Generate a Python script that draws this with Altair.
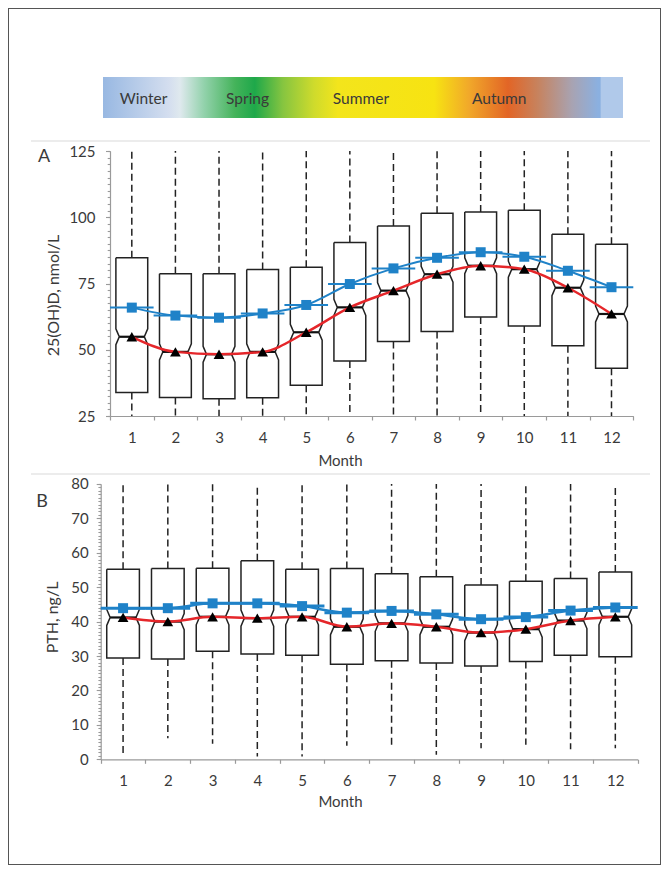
import altair as alt
import pandas as pd
import numpy as np

# ---------------- data ----------------
months = list(range(1, 13))

# Panel A: 25(OH)D, nmol/L
a_q1 = [33.9, 32.0, 31.5, 31.9, 36.6, 45.8, 53.1, 56.9, 62.4, 59.0, 51.5, 43.0]
a_median = [54.9, 49.2, 48.3, 49.2, 56.6, 66.0, 72.3, 78.5, 81.7, 80.4, 73.4, 63.5]
a_q3 = [84.7, 78.7, 78.7, 80.3, 81.1, 90.5, 96.7, 101.5, 102.0, 102.6, 93.6, 89.8]
a_mean = [65.9, 62.9, 62.1, 63.7, 66.9, 74.8, 80.7, 84.7, 86.8, 85.1, 79.8, 73.6]
a_whisker_low = [25, 25, 25, 25, 25, 25, 25, 25, 25, 25, 25, 25]
a_whisker_high = [125, 125, 125, 125, 125, 125, 125, 125, 125, 125, 125, 125]

# Panel B: PTH, ng/L
b_q1 = [29.4, 29.1, 31.4, 30.6, 30.2, 27.6, 28.6, 28.0, 27.1, 28.4, 30.2, 29.8]
b_median = [41.2, 40.0, 41.4, 41.0, 41.4, 38.5, 39.5, 38.5, 36.8, 37.8, 40.3, 41.4]
b_q3 = [55.2, 55.4, 55.5, 57.7, 55.2, 55.4, 53.9, 53.0, 50.6, 51.7, 52.5, 54.4]
b_mean = [43.9, 43.9, 45.3, 45.3, 44.5, 42.6, 43.1, 42.1, 40.7, 41.3, 43.2, 44.1]
b_whisker_low = [0.8, 6.1, 4.5, 0.8, 0.8, 3.9, 3.2, 1.3, 3.2, 4.2, 2.9, 3.2]
b_whisker_high = [80, 80, 80, 80, 80, 80, 80, 80, 80, 80, 80, 80]

seasons = ["Winter", "Spring", "Summer", "Autumn"]
season_pos = [0.078, 0.278, 0.496, 0.762]   # position along the year bar (0..1)

grad_offsets = [0.0, 0.127, 0.148, 0.194, 0.254, 0.292, 0.346, 0.406, 0.452,
                0.637, 0.704, 0.779, 0.835, 0.902, 0.952, 0.956, 0.958, 1.0]
grad_colors = ["#98b8e2", "#d4deef", "#dfe9ee", "#93d2ac", "#44b35a", "#1ea84a",
               "#86c540", "#cfdb2c", "#f3e51c", "#f7e312", "#f1a82a", "#e26526",
               "#c7825d", "#a8a3b2", "#8bb0e0", "#8ab0e0", "#b0c9ea", "#b0c9ea"]

# ---------------- style / layout ----------------
W, H = 653, 857
FONT = "Lato"
TXT = "#3a3a3a"
AXC = "#9a9a9a"
BLUE = "#1f82c8"
RED = "#e5262a"
INK = "#222222"

A_X = [102, 625.3]
A_Y = [408, 143]
B_X = [92.7, 629.7]
B_Y = [751.3, 475.9]
BAR_X = [95, 615]


def make_panel(q1, med, q3, mean, wlo, whi, ydom, xr, yr, ystep, yminor,
               ytitle, ytitle_x, ytitle_y, ylabel_pad, xtitle_y, seg_w, blue_w):
    band = (xr[1] - xr[0]) / 12.0
    ppu = (yr[0] - yr[1]) / float(ydom[1] - ydom[0])
    n = 8.0 / ppu          # notch half height (data units)
    w = 0.365              # box half width (months)
    d = 3.4 / band         # notch depth (months)

    def xs():
        return alt.Scale(domain=[0.5, 12.5], range=xr, nice=False, zero=False)

    def ys():
        return alt.Scale(domain=ydom, range=yr, nice=False, zero=False)

    xaxis = alt.Axis(
        orient="bottom", offset=yr[0] - H,
        values=[m - 0.5 for m in months] + [12.5],
        labelExpr="datum.value < 12 ? format(datum.value + 0.5, 'd') : ''",
        labelOffset=band / 2, labelFlush=False, labelOverlap=False, labelBound=False,
        tickSize=4, tickColor=AXC, tickWidth=1.2, domainColor=AXC, domainWidth=1.2,
        labelFont=FONT, labelFontSize=15, labelColor=TXT, labelPadding=10,
        title="Month", titleX=332, titleY=xtitle_y, titleBaseline="middle",
        titleAlign="center", titleFont=FONT, titleFontSize=15,
        titleFontWeight="normal", titleColor=TXT, grid=False)
    major_vals = [float(v) for v in np.arange(ydom[0], ydom[1] + 1e-9, ystep)]
    minor_vals = [float(v) for v in np.arange(ydom[0], ydom[1] + 1e-9, yminor)]
    yaxis = alt.Axis(
        orient="left", offset=-xr[0], values=major_vals, format="d",
        tickSize=4.5,
        labelOverlap=False, labelBound=False, labelFlush=False,
        tickColor=AXC, tickWidth=1.1, domainColor=AXC, domainWidth=1.2,
        labelFont=FONT, labelFontSize=15, labelColor=TXT, labelPadding=ylabel_pad,
        title=ytitle, titleX=ytitle_x, titleY=ytitle_y, titleBaseline="middle",
        titleAlign="center", titleFont=FONT, titleFontSize=16,
        titleFontWeight="normal", titleColor=TXT, grid=False)
    yaxis_minor = alt.Axis(
        orient="left", offset=-xr[0], values=minor_vals, labels=False,
        tickSize=2.8, tickColor=AXC, tickWidth=1.1, domain=False, title=None,
        grid=False)

    stats = pd.DataFrame({"month": months, "q1": q1, "median": med, "q3": q3,
                          "mean": mean, "wlo": wlo, "whi": whi})

    # whiskers
    wrows = []
    for m, a, c, lo, hi in zip(months, q1, q3, wlo, whi):
        wrows.append({"month": m, "y0": c, "y1": hi})
        wrows.append({"month": m, "y0": a, "y1": lo})
    wdf = pd.DataFrame(wrows)
    whisk = alt.Chart(wdf).mark_rule(color=INK, strokeWidth=1.5, strokeDash=[7, 4]).encode(
        x=alt.X("month:Q", scale=xs(), axis=xaxis),
        y=alt.Y("y0:Q", scale=ys(), axis=yaxis),
        y2="y1:Q")

    minor = alt.Chart(pd.DataFrame({"v": minor_vals})).mark_point(opacity=0).encode(
        y=alt.Y("v:Q", scale=ys(), axis=yaxis_minor))

    # notched box outlines
    brows = []
    for m, a, b, c in zip(months, q1, med, q3):
        pts = [(-w, c), (-w, b + n), (-w + 0.45 * d, b + 0.55 * n), (-w + d, b),
               (-w + 0.45 * d, b - 0.55 * n), (-w, b - n), (-w, a),
               (w, a), (w, b - n), (w - 0.45 * d, b - 0.55 * n), (w - d, b),
               (w - 0.45 * d, b + 0.55 * n), (w, b + n), (w, c), (-w, c)]
        for k, (dx, yy) in enumerate(pts):
            brows.append({"month": m, "k": k, "x": m + dx, "y": yy})
    bdf = pd.DataFrame(brows)
    boxes = alt.Chart(bdf).mark_line(color=INK, strokeWidth=1.5).encode(
        x=alt.X("x:Q", scale=xs(), axis=None),
        y=alt.Y("y:Q", scale=ys(), axis=None),
        detail="month:N", order="k:Q")

    base = alt.Chart(stats)
    medline = base.transform_calculate(
        mx0=f"datum.month - {w - d}", mx1=f"datum.month + {w - d}"
    ).mark_rule(color="#111111", strokeWidth=2.2).encode(
        x=alt.X("mx0:Q", scale=xs(), axis=None), x2="mx1:Q",
        y=alt.Y("median:Q", scale=ys(), axis=None))

    bseg = base.transform_calculate(
        sx0="datum.month - 0.5", sx1="datum.month + 0.5"
    ).mark_rule(color=BLUE, strokeWidth=seg_w).encode(
        x=alt.X("sx0:Q", scale=xs(), axis=None), x2="sx1:Q",
        y=alt.Y("mean:Q", scale=ys(), axis=None))

    bline = base.mark_line(color=BLUE, strokeWidth=blue_w, interpolate="monotone").encode(
        x=alt.X("month:Q", scale=xs(), axis=None),
        y=alt.Y("mean:Q", scale=ys(), axis=None))

    rline = base.mark_line(color=RED, strokeWidth=2.5, interpolate="monotone").encode(
        x=alt.X("month:Q", scale=xs(), axis=None),
        y=alt.Y("median:Q", scale=ys(), axis=None))

    squares = base.mark_square(size=100, color=BLUE, opacity=1).encode(
        x=alt.X("month:Q", scale=xs(), axis=None),
        y=alt.Y("mean:Q", scale=ys(), axis=None))

    tri = base.mark_point(shape="triangle-up", filled=True, color="black",
                          size=115, opacity=1).encode(
        x=alt.X("month:Q", scale=xs(), axis=None),
        y=alt.Y("median:Q", scale=ys(), axis=None))

    return [whisk, minor, boxes, bseg, bline, medline, rline, squares, tri]


panelA = make_panel(a_q1, a_median, a_q3, a_mean, a_whisker_low, a_whisker_high,
                    [25, 125], A_X, A_Y, 25, 2.5, "25(OH)D, nmol/L",
                    45 - A_X[0], 287, 10.5, 44, 2, 2)
panelB = make_panel(b_q1, b_median, b_q3, b_mean, b_whisker_low, b_whisker_high,
                    [0, 80], B_X, B_Y, 10, 1, "PTH, ng/L",
                    44.5 - B_X[0], 609, 8, 42.4, 3, 2.5)

# season bar
def bar_scale():
    return alt.Scale(domain=[0, 1], range=BAR_X, nice=False, zero=False)

season_bar = alt.Chart(pd.DataFrame({"start": [0.0], "end": [1.0]})).mark_rect(
    fill=alt.Gradient(gradient="linear",
                      stops=[alt.GradientStop(offset=o, color=c)
                             for o, c in zip(grad_offsets, grad_colors)],
                      x1=0, x2=1, y1=0, y2=0)
).encode(x=alt.X("start:Q", scale=bar_scale(), axis=None), x2="end:Q",
         y=alt.value(69), y2=alt.value(110))
season_text = alt.Chart(pd.DataFrame({"season": seasons, "pos": season_pos})).mark_text(
    font=FONT, fontSize=15.5, color=TXT, align="center", baseline="middle"
).encode(x=alt.X("pos:Q", scale=bar_scale(), axis=None), y=alt.value(91), text="season:N")

# faint separators
one = pd.DataFrame({"row": [0]})
sep1 = alt.Chart(one).mark_rule(color="#e6e6e6", strokeWidth=1.5).encode(
    x=alt.value(23), x2=alt.value(642), y=alt.value(133))
sep2 = alt.Chart(one).mark_rule(color="#e6e6e6", strokeWidth=1.5).encode(
    x=alt.value(23), x2=alt.value(642), y=alt.value(466))

letterA = alt.Chart(pd.DataFrame({"t": ["A"]})).mark_text(
    font=FONT, fontSize=18, color=TXT, align="center", baseline="middle"
).encode(x=alt.value(36), y=alt.value(149), text="t:N")
letterB = alt.Chart(pd.DataFrame({"t": ["B"]})).mark_text(
    font=FONT, fontSize=18, color=TXT, align="center", baseline="middle"
).encode(x=alt.value(34), y=alt.value(494), text="t:N")

chart = alt.layer(
    sep1, sep2, season_bar, season_text, *panelA, *panelB, letterA, letterB
).resolve_scale(
    x="independent", y="independent"
).properties(
    width=W, height=H, padding=0,
    autosize=alt.AutoSizeParams(type="none"),
    background="white"
).configure_view(stroke="#555555", strokeWidth=2)

chart.save("out.html", embed_options={"renderer": "svg", "actions": False})
